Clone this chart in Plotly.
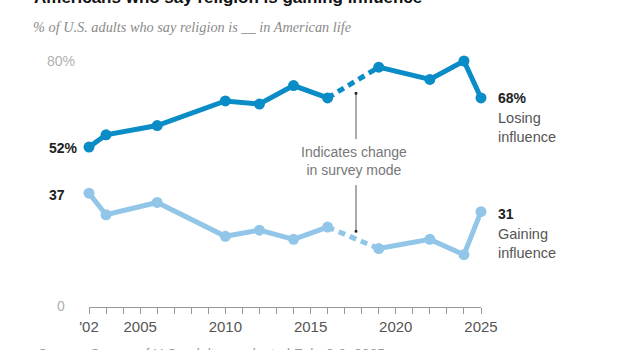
import plotly.graph_objects as go

years = [2002, 2003, 2006, 2010, 2012, 2014, 2016, 2019, 2022, 2024, 2025]
losing = [52, 56, 59, 67, 66, 72, 68, 78, 74, 80, 68]
gaining = [37, 30, 34, 23, 25, 22, 26, 19, 22, 17, 31]
tick_years = list(range(2002, 2026))
tick_labels = {2002: "'02", 2005: "2005", 2010: "2010", 2015: "2015", 2020: "2020", 2025: "2025"}

DARK = "#0a8cc6"
LIGHT = "#92c6e8"
W, H = 630, 350
L, R, T, B = 89, 481, 61, 306.7

def px(x):
    return (x - L) / (R - L)

def py(y):
    return (B - y) / (B - T)

fig = go.Figure()

def add_series(vals, color):
    i16 = years.index(2016)
    i19 = years.index(2019)
    fig.add_trace(go.Scatter(x=years[:i16 + 1], y=vals[:i16 + 1], mode="lines",
                             line=dict(color=color, width=5), cliponaxis=False, hoverinfo="skip"))
    fig.add_trace(go.Scatter(x=years[i16:i19 + 1], y=vals[i16:i19 + 1], mode="lines",
                             line=dict(color=color, width=5, dash="7px,5px"), cliponaxis=False, hoverinfo="skip"))
    fig.add_trace(go.Scatter(x=years[i19:], y=vals[i19:], mode="lines",
                             line=dict(color=color, width=5), cliponaxis=False, hoverinfo="skip"))
    fig.add_trace(go.Scatter(x=years, y=vals, mode="markers",
                             marker=dict(color=color, size=11), cliponaxis=False, hoverinfo="skip"))

add_series(losing, DARK)
add_series(gaining, LIGHT)

FONT = "Liberation Sans, Arial, sans-serif"
ann = []

def note(text, x, y, xa="left", ya="middle", size=14, color="#222", family=FONT, align="left"):
    ann.append(dict(text=text, x=px(x), y=py(y), xref="paper", yref="paper", xanchor=xa, yanchor=ya,
                    showarrow=False, align=align, font=dict(family=family, size=size, color=color)))

note("<b>Americans who say religion is gaining influence</b>", 32, 9, ya="bottom", size=17,
     color="#111")
note("<i>% of U.S. adults who say religion is __ in American life</i>", 31, 27, size=14.3,
     color="#8a8a8a", family="Liberation Serif, serif")
note("80%", 61, 61, xa="center", color="#b0b0b0")
note("0", 61, 306, xa="center", color="#b0b0b0")
note("<b>%d%%</b>" % losing[0], 47, 148)
note("<b>%d</b>" % gaining[0], 47, 195)
note("<b>%d%%</b>" % losing[-1], 496, 98)
note("Losing<br>influence", 496, 108, ya="top", size=14.5, color="#555")
note("<b>%d</b>" % gaining[-1], 496, 214)
note("Gaining<br>influence", 496, 224, ya="top", size=14.5, color="#555")
note("Indicates change<br>in survey mode", 354, 160.5, xa="center", color="#777", align="center")
note("Source: Survey of U.S. adults conducted Feb. 3-9, 2025.", 36, 344, ya="top", color="#9a9a9a")

shapes = []
for y0, y1 in [(93.3, 139), (185, 231)]:
    shapes.append(dict(type="line", xref="paper", yref="paper", x0=px(356), x1=px(356), y0=py(y0), y1=py(y1),
                       line=dict(color="#555", width=1)))
for yy in [93.3, 231]:
    shapes.append(dict(type="circle", xref="paper", yref="paper", x0=px(354.5), x1=px(357.5),
                       y0=py(yy - 1.5), y1=py(yy + 1.5), fillcolor="#222", line=dict(width=0)))

fig.update_layout(
    width=W, height=H, margin=dict(l=L, r=W - R, t=T, b=H - B, pad=0),
    paper_bgcolor="white", plot_bgcolor="white", showlegend=False,
    annotations=ann, shapes=shapes,
    xaxis=dict(range=[2002, 2025], tickvals=tick_years,
               ticktext=[tick_labels.get(y, "") for y in tick_years],
               ticks="outside", ticklen=6, tickcolor="#999", showline=True, linecolor="#999",
               showgrid=False, zeroline=False, tickfont=dict(family=FONT, size=15, color="#555")),
    yaxis=dict(range=[0, 80], showticklabels=False, showgrid=False, zeroline=False, showline=False),
)
fig.write_html("out.html")
